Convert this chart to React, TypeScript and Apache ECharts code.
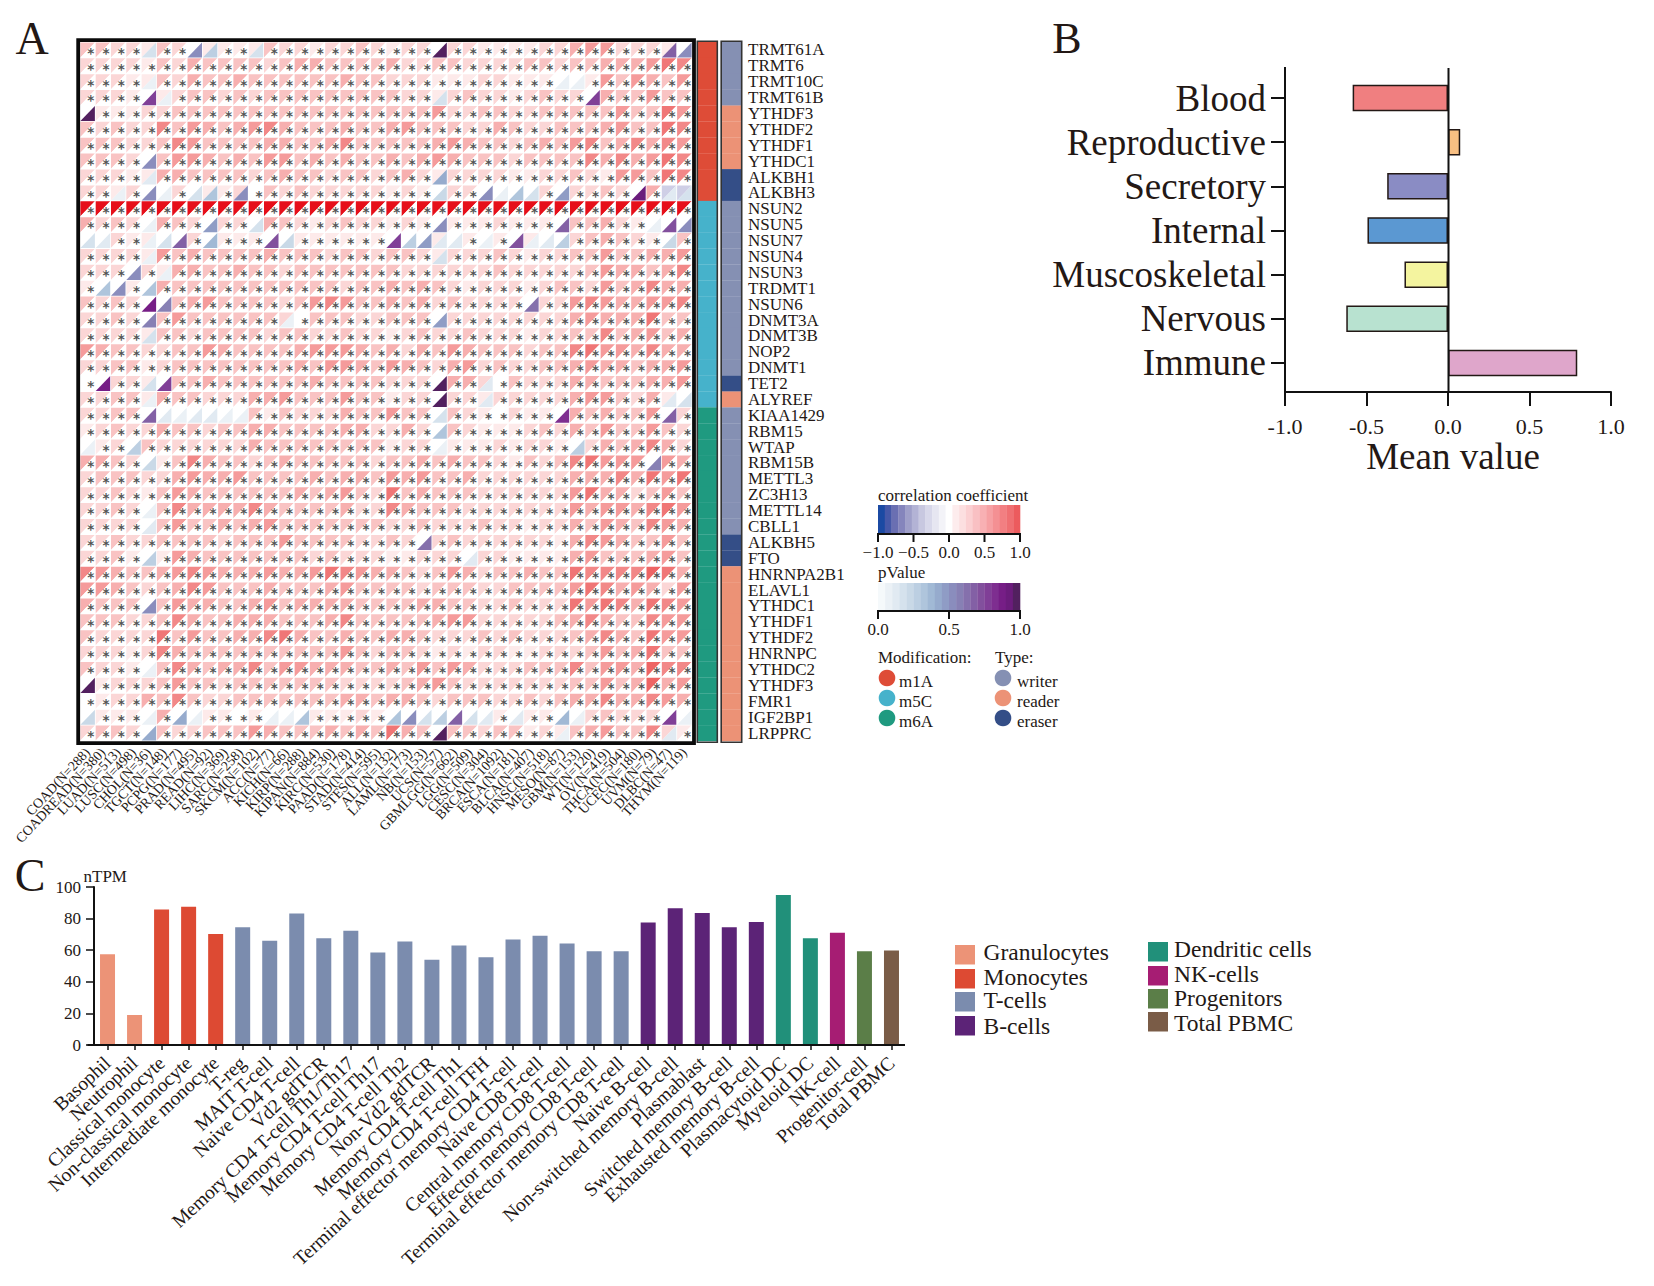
import React, { useEffect, useRef } from "react";
import * as echarts from "echarts";

const FONT = "Liberation Serif";
const INK = "#231815";

// ---------- Panel A ----------
const cancers = ["COAD(N=288)","COADREAD(N=380)","LUAD(N=513)","LUSC(N=498)","CHOL(N=36)","TGCT(N=148)","PCPG(N=177)","PRAD(N=495)","READ(N=92)","LIHC(N=369)","SARC(N=258)","SKCM(N=102)","ACC(N=77)","KICH(N=66)","KIRP(N=288)","KIPAN(N=884)","KIRC(N=530)","PAAD(N=178)","STAD(N=414)","STES(N=595)","ALL(N=132)","LAML(N=173)","NB(N=153)","UCS(N=57)","GBMLGG(N=662)","LGG(N=509)","CESC(N=304)","BRCA(N=1092)","ESCA(N=181)","BLCA(N=407)","HNSC(N=518)","MESO(N=87)","GBM(N=153)","WT(N=120)","OV(N=419)","THCA(N=504)","UCEC(N=180)","UVM(N=79)","DLBC(N=47)","THYM(N=119)"];
const genes = ["TRMT61A","TRMT6","TRMT10C","TRMT61B","YTHDF3","YTHDF2","YTHDF1","YTHDC1","ALKBH1","ALKBH3","NSUN2","NSUN5","NSUN7","NSUN4","NSUN3","TRDMT1","NSUN6","DNMT3A","DNMT3B","NOP2","DNMT1","TET2","ALYREF","KIAA1429","RBM15","WTAP","RBM15B","METTL3","ZC3H13","METTL14","CBLL1","ALKBH5","FTO","HNRNPA2B1","ELAVL1","YTHDC1","YTHDF1","YTHDF2","HNRNPC","YTHDC2","YTHDF3","FMR1","IGF2BP1","LRPPRC"];
const modificationOfGene = ["m1A","m1A","m1A","m1A","m1A","m1A","m1A","m1A","m1A","m1A","m5C","m5C","m5C","m5C","m5C","m5C","m5C","m5C","m5C","m5C","m5C","m5C","m5C","m6A","m6A","m6A","m6A","m6A","m6A","m6A","m6A","m6A","m6A","m6A","m6A","m6A","m6A","m6A","m6A","m6A","m6A","m6A","m6A","m6A"];
const typeOfGene = ["writer","writer","writer","writer","reader","reader","reader","reader","eraser","eraser","writer","writer","writer","writer","writer","writer","writer","writer","writer","writer","writer","eraser","reader","writer","writer","writer","writer","writer","writer","writer","writer","eraser","eraser","reader","reader","reader","reader","reader","reader","reader","reader","reader","reader","reader"];
const modificationColors: Record<string, string> = { m1A: "#de4c37", m5C: "#46b2cb", m6A: "#1f9a80" };
const typeColors: Record<string, string> = { writer: "#8590b3", reader: "#ec9276", eraser: "#344e87" };

// correlation, in tenths (10 = the saturated NSUN2 row)
const corrTenths: number[][] = [
  [3,3,2,2,1,3,2,0,1,1,1,1,3,2,2,1,2,2,3,2, 1,2,2,0,2,2,1,1,1,1,2,2,4,5,5,2,2,2,1,0],
  [2,2,2,2,1,3,2,4,3,3,3,3,2,3,4,4,3,3,3,3, 4,2,2,3,3,2,2,2,2,3,3,2,3,3,4,4,4,5,7,6],
  [2,2,2,1,1,3,2,4,3,3,4,3,3,3,3,3,3,4,3,3, 2,2,2,1,1,1,2,2,1,1,1,0,0,1,5,3,5,4,3,5],
  [2,2,2,1,0,1,2,3,3,2,3,2,3,3,3,3,3,3,3,3, 3,2,2,1,2,3,2,2,1,2,3,2,2,0,4,3,3,5,3,3],
  [0,1,1,1,2,2,3,3,3,3,3,3,3,3,3,3,3,3,3,3, 3,3,3,5,2,2,3,3,2,2,3,3,3,3,3,5,3,3,7,5],
  [3,2,3,2,2,6,3,5,4,3,4,5,6,4,3,3,3,4,3,3, 4,5,3,3,3,2,2,4,3,2,2,3,3,3,4,5,3,3,7,6],
  [3,3,3,2,2,3,6,5,3,3,3,3,4,4,3,3,4,6,3,3, 3,3,3,4,5,4,3,3,2,3,4,3,5,6,3,4,6,4,6,5],
  [3,3,3,2,0,3,5,5,4,3,4,3,5,5,3,4,3,4,3,3, 4,3,4,5,4,3,3,3,2,3,3,3,3,6,4,6,4,5,7,6],
  [2,2,2,1,1,4,4,3,3,3,3,2,3,4,3,3,2,3,3,2, 3,4,2,1,2,2,2,2,1,1,2,2,3,2,1,5,5,3,7,6],
  [2,2,1,2,0,0,2,0,1,1,2,0,3,2,3,2,2,2,2,2, 1,2,1,0,2,2,0,0,0,0,2,0,2,2,3,2,0,4,-2,-2],
  [10,10,10,10,10,10,10,10,10,10,10,10,10,10,10,10,10,10,10,10, 10,10,10,10,10,10,10,10,10,10,10,10,10,10,10,10,10,10,10,10],
  [4,2,3,2,0,4,3,2,0,2,2,0,4,3,2,1,2,3,2,2, 1,2,1,0,1,1,1,2,1,1,1,0,3,3,4,2,1,0,0,0],
  [0,0,2,1,1,0,0,2,0,1,1,1,0,0,1,1,1,1,1,1, 0,0,0,1,0,1,0,1,0,1,0,0,2,3,4,3,2,1,0,3],
  [2,2,2,2,1,5,3,4,3,3,3,3,4,3,3,3,2,3,3,2, 3,3,2,1,2,2,2,3,2,1,2,2,3,3,5,3,3,4,4,5],
  [2,2,2,0,2,1,4,4,3,3,4,3,3,2,3,3,3,3,3,3, 3,2,2,2,2,2,2,3,2,2,2,2,2,3,5,4,4,3,4,6],
  [1,0,0,1,0,4,3,3,3,3,3,3,3,3,3,3,3,2,3,3, 4,3,4,3,2,1,2,2,2,1,2,3,3,2,5,3,4,6,4,4],
  [3,2,3,2,0,0,3,4,5,3,3,3,3,2,3,5,6,5,3,3, 4,3,4,2,3,2,2,2,2,0,2,2,5,6,5,4,4,5,5,6],
  [2,2,3,2,0,3,5,3,3,3,3,3,3,2,0,3,3,3,2,2, 3,3,3,0,2,2,2,2,2,2,2,2,4,5,4,4,4,7,3,3],
  [2,2,2,2,1,3,3,2,3,3,3,3,2,3,3,2,2,3,2,2, 1,2,3,2,2,3,2,2,2,1,2,2,3,3,6,3,4,5,3,4],
  [5,4,3,3,2,2,3,3,5,4,3,3,3,3,4,5,5,5,4,3, 4,2,4,3,5,4,3,3,3,2,3,3,6,7,5,5,4,6,4,4],
  [2,2,3,3,1,2,3,3,3,3,3,3,3,3,4,3,5,5,4,3, 5,4,3,2,4,5,2,3,2,2,3,3,4,5,4,4,3,4,4,5],
  [0,0,2,2,1,0,3,3,4,3,3,3,3,3,3,4,3,3,3,3, 2,2,2,0,4,4,2,0,3,2,2,2,4,4,3,3,3,4,4,5],
  [2,2,3,3,1,4,3,3,2,2,2,4,4,5,3,3,3,5,3,3, 1,2,2,0,2,2,1,2,2,2,2,2,4,5,5,3,2,4,1,0],
  [2,2,3,3,0,0,0,0,0,0,0,3,1,3,2,2,2,4,3,3, 5,3,3,0,3,2,1,0,2,1,1,0,4,3,4,3,3,5,0,2],
  [1,2,3,2,2,4,3,3,2,3,3,4,4,3,3,3,3,4,4,2, 2,4,2,0,3,2,1,1,1,2,3,2,4,3,5,3,3,5,3,2],
  [0,1,2,0,3,2,2,2,2,2,2,4,3,3,3,3,3,3,3,3, 1,2,2,0,1,1,1,2,1,2,2,1,0,2,4,3,4,6,4,2],
  [4,4,3,2,0,1,3,6,4,3,3,2,3,4,3,3,3,3,3,2, 3,3,4,3,4,3,3,2,1,3,2,3,6,7,5,5,5,0,5,4],
  [2,3,3,3,2,2,4,5,4,4,5,3,3,3,3,4,3,4,4,3, 5,4,5,3,3,4,2,2,2,2,2,2,4,4,4,6,4,7,5,7],
  [2,2,3,2,1,3,5,4,3,3,3,3,3,3,4,3,4,5,3,2, 7,3,4,3,3,3,2,2,2,2,2,2,5,7,4,4,2,3,5,3],
  [2,2,3,2,0,3,6,4,4,4,4,6,4,3,3,3,3,4,2,2, 6,4,3,3,3,2,2,2,2,2,2,2,5,4,5,5,4,6,7,5],
  [2,2,2,2,0,3,5,3,3,4,3,4,5,3,3,3,3,3,3,3, 2,2,3,2,2,2,3,2,2,1,2,2,4,3,5,4,3,6,5,4],
  [2,2,3,2,2,3,3,3,3,2,3,3,3,5,3,3,3,3,2,2, 3,2,0,2,3,2,2,2,2,2,2,1,4,6,5,4,3,3,5,3],
  [2,2,3,1,0,1,5,4,3,3,3,3,3,3,3,2,3,2,2,2, 1,1,2,2,2,0,2,2,1,1,1,1,4,5,3,3,3,4,5,3],
  [6,5,4,3,3,4,5,6,5,4,4,4,5,4,4,5,7,6,5,4, 4,3,2,3,5,4,2,3,3,4,3,3,7,6,6,6,6,8,7,4],
  [5,5,4,3,2,3,4,6,5,3,3,3,4,3,3,3,4,5,3,3, 3,3,2,3,3,3,2,2,3,3,3,3,5,7,6,4,5,4,2,5],
  [4,3,3,3,0,3,5,4,4,3,3,4,5,3,4,4,4,4,3,3, 3,3,4,4,3,3,2,2,3,2,2,2,7,5,7,6,4,7,6,5],
  [3,3,3,2,2,3,6,4,3,3,4,4,4,3,3,3,4,6,3,3, 3,3,3,4,5,5,2,2,2,2,2,3,4,6,4,3,3,6,5,5],
  [3,2,2,2,2,7,3,5,3,3,4,4,6,7,4,3,3,4,3,3, 4,4,3,2,2,2,3,2,3,2,2,2,3,4,6,4,3,7,5,5],
  [2,2,2,1,2,6,4,3,3,3,3,3,3,3,3,3,3,5,3,2, 3,3,2,1,2,1,2,2,1,1,2,2,2,3,5,3,4,7,3,3],
  [3,2,2,1,0,3,6,4,3,4,4,6,3,5,5,4,4,4,3,3, 4,3,5,3,5,4,2,2,2,3,3,3,6,3,5,5,4,8,6,6],
  [0,1,2,2,2,3,5,3,3,2,3,3,3,3,3,3,3,2,2,2, 2,3,4,5,3,2,2,2,2,2,2,2,3,3,5,3,4,8,4,5],
  [0,1,2,2,4,3,6,3,2,2,3,3,3,3,3,3,3,4,4,3, 4,4,3,2,3,3,3,2,2,3,2,3,4,4,6,4,4,6,5,4],
  [0,1,1,1,0,4,0,0,1,1,0,1,0,0,0,1,1,1,2,1, 0,0,0,0,0,0,0,1,0,1,1,0,0,2,3,2,2,2,0,0],
  [2,3,3,2,0,3,2,2,3,3,3,5,4,3,3,3,4,3,4,3, 7,4,3,0,3,3,2,3,3,1,2,1,3,4,5,3,3,6,2,1],
];

// cells without a star: [gene row, cancer column, pValue]; every other cell reads as p = 0
const nonSignificant: [number, number, number][] = [
  [0,4,.15],[0,7,.55],[0,8,.25],[0,11,.15],[0,23,1],[0,38,.7],[0,39,.55],
  [2,4,.05],[2,31,.03],[2,32,.03],
  [3,4,.8],[3,5,.05],[3,23,.15],[3,33,.8],
  [4,0,1],[7,4,.55],[8,4,.12],[8,23,.4],
  [9,2,.03],[9,4,.55],[9,5,.05],[9,7,.15],[9,8,.3],[9,10,.55],[9,23,.2],[9,26,.55],[9,27,.03],[9,28,.3],[9,29,.15],[9,31,.45],[9,36,.95],[9,38,.1],[9,39,.15],
  [11,4,.05],[11,8,.45],[11,11,.15],[11,23,.5],[11,31,.7],[11,37,.05],[11,38,.75],[11,39,.55],
  [12,0,.15],[12,1,.08],[12,4,.07],[12,5,.15],[12,6,.7],[12,8,.35],[12,12,.75],[12,13,.2],[12,20,.8],[12,21,.25],[12,22,.45],[12,23,.08],[12,24,.12],[12,26,.04],[12,28,.75],[12,29,.03],[12,30,.12],[12,31,.25],[12,38,.2],
  [13,4,.03],[13,23,.15],
  [14,3,.5],[14,5,.03],
  [15,1,.3],[15,2,.55],[15,4,.3],
  [16,4,.9],[16,5,.6],[16,29,.65],
  [17,4,.6],[17,13,.05],[17,23,.45],
  [18,4,.15],
  [21,1,.9],[21,4,.15],[21,5,.8],[21,23,1],[21,26,.1],
  [22,4,.03],[22,23,1],[22,26,.12],[22,38,.12],[22,39,.18],
  [23,4,.7],[23,5,.08],[23,6,.05],[23,7,.1],[23,8,.08],[23,9,.03],[23,10,.05],[23,23,.15],[23,31,.85],[23,38,.7],
  [24,23,.3],
  [25,0,.05],[25,3,.25],[25,23,.07],[25,32,.25],
  [26,4,.2],[26,37,.6],
  [29,4,.04],[30,4,.08],
  [31,22,.65],
  [32,4,.25],[32,25,.1],
  [35,4,.55],
  [39,4,.04],
  [40,0,1],
  [42,0,.2],[42,4,.03],[42,6,.4],[42,7,.06],[42,12,.05],[42,13,.03],[42,14,.3],[42,20,.3],[42,21,.55],[42,22,.15],[42,23,.25],[42,24,.7],[42,25,.15],[42,26,.12],[42,28,.08],[42,31,.35],[42,32,.05],[42,38,.8],[42,39,.04],
  [43,4,.4],[43,23,1],[43,31,.03],[43,38,.1],
];

const corrSteps = ["#ffffff","#fdeaea","#fbd6d6","#f9c3c3","#f7afaf","#f59b9b","#f28888","#f07676","#ee6565","#ec5a5c","#e60f1a"];
const corrNegative = ["#ffffff","#eeeef6","#cfcfe6"];
const corrBarColors = ["#1b4aa3","#4658a8","#6a6fb2","#8585bc","#9f9fc9","#b3b3d5","#c8c8e0","#d8d8ea","#e6e6f1","#f3f3f8","#ffffff","#fdeced","#fcdfe0","#fbd0d2","#f9c0c3","#f8b0b3","#f6a0a3","#f49093","#f27f82","#ef6f72","#ec5b5e"];
const pBarColors = ["#f5f9fb","#ebf1f6","#e1eaf2","#d5e2ed","#c9d9e7","#bccfe2","#afc5dc","#a1b9d5","#96abcd","#8f9cc5","#8a8dbd","#8780b4","#8570ac","#8360a5","#82509d","#803f97","#7e2e90","#761e86","#6b1c7c","#52205f"];
const corrTicks = ["−1.0","−0.5","0.0","0.5","1.0"];
const pTicks = ["0.0","0.5","1.0"];

// ---------- Panel B ----------
const systems = ["Blood","Reproductive","Secretory","Internal","Muscoskeletal","Nervous","Immune"];
const systemMeans = [-0.585, 0.075, -0.373, -0.494, -0.267, -0.624, 0.793];
const systemColors = ["#f07f80","#f8bf82","#8a8cc4","#5b98d2","#f4f49f","#b8e2d0","#dfa6cb"];

// ---------- Panel C ----------
const cellTypes = ["Basophil","Neutrophil","Classical monocyte","Non-classical monocyte","Intermediate monocyte","T-reg","MAIT T-cell","Naive CD4 T-cell","Vd2 gdTCR","Memory CD4 T-cell Th1/Th17","Memory CD4 T-cell Th17","Memory CD4 T-cell Th2","Non-Vd2 gdTCR","Memory CD4 T-cell Th1","Memory CD4 T-cell TFH","Terminal effector memory CD4 T-cell","Naive CD8 T-cell","Central memory CD8 T-cell","Effector memory CD8 T-cell","Terminal effector memory CD8 T-cell","Naive B-cell","Non-switched memory B-cell","Plasmablast","Switched memory B-cell","Exhausted memory B-cell","Plasmacytoid DC","Myeloid DC","NK-cell","Progenitor-cell","Total PBMC"];
const nTPM = [57.5,19,85.7,87.5,70.3,74.5,66,83.3,67.5,72.3,58.5,65.5,54,63,55.5,66.8,69.2,64.3,59.3,59.3,77.5,86.5,83.5,74.5,77.8,95,67.5,71,59.3,59.8];
const groupOfCell = ["Granulocytes","Granulocytes","Monocytes","Monocytes","Monocytes","T-cells","T-cells","T-cells","T-cells","T-cells","T-cells","T-cells","T-cells","T-cells","T-cells","T-cells","T-cells","T-cells","T-cells","T-cells","B-cells","B-cells","B-cells","B-cells","B-cells","Dendritic cells","Dendritic cells","NK-cells","Progenitors","Total PBMC"];
const groupColors: Record<string, string> = { Granulocytes: "#ec9377", Monocytes: "#dd4a33", "T-cells": "#7b8cae", "B-cells": "#5c2377", "Dendritic cells": "#21907a", "NK-cells": "#a61d73", Progenitors: "#5b7e48", "Total PBMC": "#7a5c47" };

const corrColor = (t: number) => (t < 0 ? corrNegative[-t] : corrSteps[t]);
const pColor = (p: number) => (p <= 0 ? "#ffffff" : pBarColors[Math.round(p * 19)]);

function heatmapData() {
  const pMap = new Map(nonSignificant.map(([r, c, p]) => [r + "," + c, p]));
  const out: number[][] = [];
  corrTenths.forEach((row, r) =>
    row.forEach((t, c) => out.push([c, r, t, pMap.has(r + "," + c) ? (pMap.get(r + "," + c) as number) : 0]))
  );
  return out;
}

const renderCell = (_: any, api: any) => {
  const [cx, cy] = api.coord([api.value(0), api.value(1)]);
  const [w, h] = api.size([1, 1]);
  const t = api.value(2);
  const p = api.value(3);
  const l = cx - w / 2 + 0.4, r = cx + w / 2 - 0.4, tp = cy - h / 2 + 0.4, b = cy + h / 2 - 0.4;
  const children: any[] = [
    { type: "polygon", shape: { points: [[l, tp], [r, tp], [l, b]] }, style: { fill: corrColor(t) } },
    { type: "polygon", shape: { points: [[r, tp], [r, b], [l, b]] }, style: { fill: pColor(p) } },
  ];
  if (p === 0) {
    children.push({
      type: "text",
      style: { x: cx + w * 0.2, y: cy + 2.8, text: "*", fontSize: 13.5, fontFamily: "DejaVu Sans", fontWeight: "bold", fill: "#555555", align: "center", verticalAlign: "middle" },
    });
  }
  return { type: "group", children };
};

const stripRenderer = (colors: string[]) => (_: any, api: any) => {
  const [cx, cy] = api.coord([0, api.value(0)]);
  const [w, h] = api.size([1, 1]);
  return { type: "rect", shape: { x: cx - w / 2, y: cy - h / 2, width: w, height: h + 0.2 }, style: { fill: colors[api.value(0)] } };
};

const txt = (text: string, x: number, y: number, fontSize: number, extra: any = {}) => ({
  type: "text", silent: true, z: 20,
  style: { text, x, y, fontSize, fontFamily: FONT, fill: INK, verticalAlign: "middle", ...extra },
});
const rect = (x: number, y: number, width: number, height: number, style: any) => ({
  type: "rect", silent: true, z: 20, shape: { x, y, width, height }, style,
});
const ln = (x1: number, y1: number, x2: number, y2: number, lineWidth = 2) => ({
  type: "line", silent: true, z: 20, shape: { x1, y1, x2, y2 }, style: { stroke: "#111111", lineWidth },
});

function buildGraphics() {
  const g: any[] = [];
  g.push(txt("A", 32, 38, 46, { align: "center" }));
  g.push(txt("B", 1067, 38, 44, { align: "center" }));
  g.push(txt("C", 30, 875, 46, { align: "center" }));

  // frames of panel A
  g.push(rect(78.2, 40.1, 615.8, 703, { fill: "none", stroke: "#0a0a0a", lineWidth: 3.8 }));
  g.push(rect(697.3, 41.2, 20, 701, { fill: "none", stroke: "#333333", lineWidth: 1.6 }));
  g.push(rect(721.2, 41.2, 20.5, 701, { fill: "none", stroke: "#333333", lineWidth: 1.6 }));

  // correlation colour bar
  g.push(txt("correlation coefficient", 878, 495, 17));
  const segC = 142 / corrBarColors.length;
  corrBarColors.forEach((c, i) => g.push(rect(878 + i * segC, 505, segC + 0.3, 28, { fill: c })));
  g.push(ln(877, 534, 1021, 534));
  corrTicks.forEach((t, i) => {
    const x = 878 + i * 35.5;
    g.push(ln(x, 534, x, 542));
    g.push(txt(t, x, 552, 17, { align: "center" }));
  });

  // pValue colour bar
  g.push(txt("pValue", 878, 572, 17));
  const segP = 142 / pBarColors.length;
  pBarColors.forEach((c, i) => g.push(rect(878 + i * segP, 583, segP + 0.3, 27, { fill: c })));
  g.push(ln(877, 611, 1021, 611));
  pTicks.forEach((t, i) => {
    const x = 878 + i * 71;
    g.push(ln(x, 611, x, 619));
    g.push(txt(t, x, 629, 17, { align: "center" }));
  });

  // categorical keys of panel A
  g.push(txt("Modification:", 878, 657, 17));
  g.push(txt("Type:", 995, 657, 17));
  Object.keys(modificationColors).forEach((k, i) => {
    g.push({ type: "circle", silent: true, z: 20, shape: { cx: 887, cy: 678 + i * 20, r: 8.3 }, style: { fill: modificationColors[k] } });
    g.push(txt(k, 899, 681 + i * 20, 17));
  });
  Object.keys(typeColors).forEach((k, i) => {
    g.push({ type: "circle", silent: true, z: 20, shape: { cx: 1003, cy: 678 + i * 20, r: 8.3 }, style: { fill: typeColors[k] } });
    g.push(txt(k, 1017, 681 + i * 20, 17));
  });

  // panel B axis lines
  g.push(ln(1285, 67, 1285, 392));
  g.push(ln(1448.5, 68, 1448.5, 392));

  // panel C
  g.push(txt("nTPM", 83.5, 876, 17));
  g.push(ln(87.5, 1045, 905, 1045));

  const leftKeys = ["Granulocytes", "Monocytes", "T-cells", "B-cells"];
  const leftTop = [945, 969, 992, 1016];
  const leftText = [952, 977, 1000, 1026];
  leftKeys.forEach((k, i) => {
    g.push(rect(955, leftTop[i], 20, 19.5, { fill: groupColors[k] }));
    g.push(txt(k, 983.5, leftText[i], 23.5));
  });
  const rightKeys = ["Dendritic cells", "NK-cells", "Progenitors", "Total PBMC"];
  const rightTop = [942, 966, 989, 1012];
  const rightText = [949, 974, 998, 1023];
  rightKeys.forEach((k, i) => {
    g.push(rect(1148, rightTop[i], 20, 19.5, { fill: groupColors[k] }));
    g.push(txt(k, 1174, rightText[i], 23.5));
  });
  return g;
}

const App = () => {
  const ref = useRef<HTMLDivElement>(null);
  useEffect(() => {
    const chart = echarts.init(ref.current as HTMLDivElement, undefined, { renderer: "svg" });
    const hiddenCat = (data: string[], gridIndex: number) => ({
      type: "category", data, gridIndex, axisLine: { show: false }, axisTick: { show: false }, axisLabel: { show: false }, splitLine: { show: false },
    });
    chart.setOption({
      animation: false,
      backgroundColor: "#ffffff",
      textStyle: { fontFamily: FONT, color: INK },
      grid: [
        { left: 80, top: 42, width: 612, height: 699 },
        { left: 697.5, top: 42, width: 19.5, height: 699 },
        { left: 721.5, top: 42, width: 20, height: 699 },
        { left: 1285, top: 76, width: 326, height: 309 },
        { left: 94, top: 887, width: 811, height: 158 },
      ],
      xAxis: [
        {
          type: "category", data: cancers, gridIndex: 0, axisLine: { show: false }, axisTick: { show: false },
          axisLabel: { interval: 0, rotate: 47, fontSize: 13.8, margin: 9, color: INK, fontFamily: FONT },
        },
        hiddenCat(["m"], 1),
        hiddenCat(["t"], 2),
        {
          type: "value", gridIndex: 3, min: -1, max: 1, interval: 0.5, offset: 7,
          axisLine: { show: true, onZero: false, lineStyle: { color: "#111111", width: 2 } },
          axisTick: { show: true, length: 14, lineStyle: { color: "#111111", width: 2 } },
          splitLine: { show: false },
          axisLabel: { formatter: (v: number) => v.toFixed(1), fontSize: 22, margin: 23, color: INK, fontFamily: FONT },
          name: "Mean value", nameLocation: "middle", nameGap: 46,
          nameTextStyle: { fontSize: 37, color: INK, fontFamily: FONT, padding: [0, 0, 0, 10] },
        },
        {
          type: "category", data: cellTypes, gridIndex: 4,
          axisLine: { show: false },
          axisTick: { show: true, alignWithLabel: true, length: 5, lineStyle: { color: "#111111", width: 1.5 } },
          axisLabel: { interval: 0, rotate: 43, fontSize: 19.5, margin: 15, color: INK, fontFamily: FONT },
        },
      ],
      yAxis: [
        { ...hiddenCat(genes, 0), inverse: true },
        { ...hiddenCat(genes, 1), inverse: true },
        {
          type: "category", data: genes, gridIndex: 2, inverse: true, position: "right",
          axisLine: { show: false }, axisTick: { show: false },
          axisLabel: { interval: 0, fontSize: 17, margin: 6.5, color: INK, fontFamily: FONT, padding: [2, 0, 0, 0] },
        },
        {
          type: "category", data: systems, gridIndex: 3, inverse: true,
          axisLine: { show: false, onZero: false },
          axisTick: { show: true, length: 14, alignWithLabel: true, lineStyle: { color: "#111111", width: 2 } },
          axisLabel: { interval: 0, fontSize: 37, margin: 19, color: INK, fontFamily: FONT, padding: [0, 0, 6, 0] },
        },
        {
          type: "value", gridIndex: 4, min: 0, max: 100, interval: 20,
          axisLine: { show: true, lineStyle: { color: "#111111", width: 2 } },
          axisTick: { show: true, length: 8, lineStyle: { color: "#111111", width: 1.5 } },
          splitLine: { show: false },
          axisLabel: { fontSize: 17, margin: 13, color: INK, fontFamily: FONT },
        },
      ],
      graphic: buildGraphics(),
      series: [
        { type: "custom", xAxisIndex: 0, yAxisIndex: 0, silent: true, clip: false, renderItem: renderCell, data: heatmapData(), encode: { x: 0, y: 1 } },
        {
          type: "custom", xAxisIndex: 1, yAxisIndex: 1, silent: true,
          renderItem: stripRenderer(modificationOfGene.map((m) => modificationColors[m])),
          data: genes.map((_, i) => [i]), encode: { y: 0 },
        },
        {
          type: "custom", xAxisIndex: 2, yAxisIndex: 2, silent: true,
          renderItem: stripRenderer(typeOfGene.map((t) => typeColors[t])),
          data: genes.map((_, i) => [i]), encode: { y: 0 },
        },
        {
          type: "bar", xAxisIndex: 3, yAxisIndex: 3, barWidth: 26.5,
          itemStyle: { borderColor: "#231815", borderWidth: 1.5 },
          data: systemMeans.map((v, i) => ({ value: v, itemStyle: { color: systemColors[i] } })),
        },
        {
          type: "bar", xAxisIndex: 4, yAxisIndex: 4, barWidth: 15,
          data: nTPM.map((v, i) => ({ value: v, itemStyle: { color: groupColors[groupOfCell[i]] } })),
        },
      ],
    });
    return () => chart.dispose();
  }, []);
  return <div ref={ref} style={{ position: "absolute", left: 0, top: 0, width: 1654, height: 1286 }} />;
};

export default App;
